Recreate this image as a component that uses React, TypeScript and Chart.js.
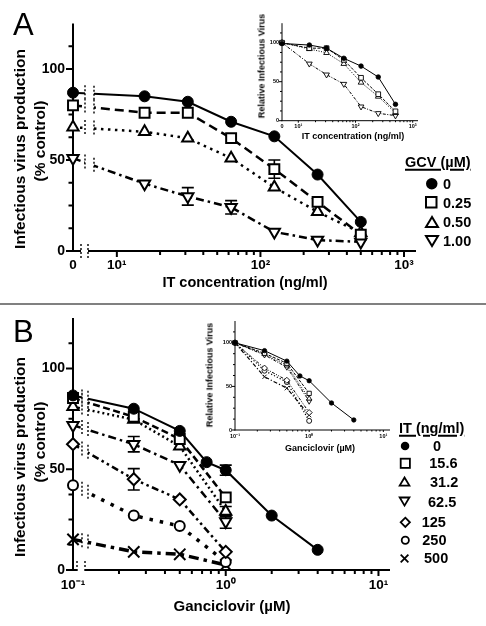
import React, { useEffect, useRef } from 'react';
import { Chart, registerables } from 'chart.js';

Chart.register(...registerables);

const FONT = '"Liberation Sans", Arial, Helvetica, sans-serif';

/* ---------------- data: panel A (IT concentration, ng/ml) ---------------- */
const IT_CONC = [0, 15.6, 31.2, 62.5, 125, 250, 500];
const GCV_LEVELS = ['0', '0.25', '0.50', '1.00'];
const A_GCV_0 = [87, 85, 82, 71, 63, 42, 16];
const A_GCV_025 = [80, 76, 76, 62, 45, 27, 9];
const A_GCV_050 = [68, 65.5, 62, 51, 35, 21.5, 10];
const A_GCV_100 = [51, 37, 30, 24, 10.5, 6, 5];
const A_ERR_GCV_025 = [0, 0, 0, 0, 5, 0, 0];
const A_ERR_GCV_100 = [0, 0, 4.8, 3.7, 0, 0, 0];
const A_INSET_GCV_0 = [99, 97, 93, 80, 70, 56, 21];
const A_INSET_GCV_025 = [100, 93, 93, 78, 55, 34, 12];
const A_INSET_GCV_050 = [100, 92, 87, 73, 49, 31, 10];
const A_INSET_GCV_100 = [100, 73, 59, 47, 18, 9.5, 6.5];
const A_X_TICK_VALUES = [0, 10, 100, 1000];
const A_X_TICK_LABELS = ['0', '10¹', '10²', '10³'];
const A_X_MINOR = [20, 30, 40, 50, 60, 70, 80, 90, 200, 300, 400, 500, 600, 700, 800, 900];

/* ---------------- data: panel B (Ganciclovir, µM) ---------------- */
const GCV_CONC_FULL = [0, 0.25, 0.5, 0.75, 1, 2, 4];
const GCV_CONC = [0, 0.25, 0.5, 1];
const IT_LEVELS = ['0', '15.6', '31.2', '62.5', '125', '250', '500'];
const B_IT_0 = [86.6, 80, 69, 53.5, 49.5, 27, 10];
const B_IT_156 = [85.3, 76, 65, 36];
const B_IT_312 = [81, 74.6, 61.4, 29];
const B_IT_625 = [71.8, 62.4, 52, 24];
const B_IT_125 = [62.4, 45, 35, 9];
const B_IT_250 = [42, 27, 21.8, 4];
const B_IT_500 = [15.2, 9, 7.8, 2.5];
const B_ERR_IT_0 = [0, 0, 0, 0, 2.5, 0, 0];
const B_ERR_IT_312 = [0, 0, 0, 2.5];
const B_ERR_IT_625 = [0, 3.8, 0, 3.3];
const B_ERR_IT_125 = [0, 5.3, 0, 0];
const B_INSET_IT_0 = [100, 91, 79, 62, 56.5, 31, 11.5];
const B_INSET_IT_156 = [100, 88, 76.5, 42];
const B_INSET_IT_312 = [100, 87, 74, 36];
const B_INSET_IT_625 = [100, 86, 72, 33];
const B_INSET_IT_125 = [100, 71, 57, 20];
const B_INSET_IT_250 = [100, 68, 55, 10.5];
const B_INSET_IT_500 = [100, 61, 48, 17];
const B_X_TICK_VALUES = [0, 1, 10];
const B_X_TICK_LABELS = ['10⁻¹', '10⁰', '10¹'];
const B_X_MINOR = [0.2, 0.3, 0.4, 0.5, 0.6, 0.7, 0.8, 0.9, 2, 3, 4, 5, 6, 7, 8, 9];

const Y_TICK_VALUES = [0, 50, 100];
const Y_MINOR = [12.5, 25, 37.5, 62.5, 75, 87.5, 112.5];

/* ---------------- styles ---------------- */
type SStyle = { point: string; radius: number; fill: boolean; rot?: number; dash: number[]; width: number; pbw: number };

const STYLE_A_MAIN: SStyle[] = [
  { point: 'circle', radius: 5.5, fill: true, dash: [], width: 2, pbw: 1 },
  { point: 'rect', radius: 7, fill: false, dash: [9, 5], width: 2.5, pbw: 2 },
  { point: 'triangle', radius: 6.5, fill: false, dash: [2.5, 4.5], width: 2.5, pbw: 2 },
  { point: 'triangle', radius: 6.5, fill: false, rot: 180, dash: [8, 4, 2.5, 4], width: 2.5, pbw: 2 },
];
const STYLE_A_INSET: SStyle[] = [
  { point: 'circle', radius: 2.3, fill: true, dash: [], width: 1, pbw: 0.8 },
  { point: 'rect', radius: 3.3, fill: false, dash: [3, 1.5], width: 1, pbw: 0.9 },
  { point: 'triangle', radius: 3.3, fill: false, dash: [1, 1.5], width: 1, pbw: 0.9 },
  { point: 'triangle', radius: 3.3, fill: false, rot: 180, dash: [3, 1.5, 1, 1.5], width: 1, pbw: 0.9 },
];
const STYLE_B_MAIN: SStyle[] = [
  { point: 'circle', radius: 5.5, fill: true, dash: [], width: 2, pbw: 1 },
  { point: 'rect', radius: 7, fill: false, dash: [7, 3.5], width: 2.5, pbw: 2 },
  { point: 'triangle', radius: 6.5, fill: false, dash: [2, 3], width: 2.5, pbw: 2 },
  { point: 'triangle', radius: 6.5, fill: false, rot: 180, dash: [8, 4, 2.5, 4], width: 2.5, pbw: 2 },
  { point: 'rectRot', radius: 6, fill: false, dash: [7, 3.5, 2.5, 3.5, 2.5, 3.5], width: 2.5, pbw: 2 },
  { point: 'circle', radius: 5, fill: false, dash: [3.5, 7], width: 3.5, pbw: 2 },
  { point: 'crossRot', radius: 8, fill: false, dash: [10, 5, 3.5, 5], width: 3.5, pbw: 2 },
];
const STYLE_B_INSET: SStyle[] = [
  { point: 'circle', radius: 2.2, fill: true, dash: [], width: 1, pbw: 0.8 },
  { point: 'rect', radius: 3, fill: false, dash: [3, 1.5], width: 1, pbw: 0.9 },
  { point: 'triangle', radius: 3, fill: false, dash: [1, 1.5], width: 1, pbw: 0.9 },
  { point: 'triangle', radius: 3, fill: false, rot: 180, dash: [3, 1.5, 1, 1.5], width: 1, pbw: 0.9 },
  { point: 'rectRot', radius: 3, fill: false, dash: [3, 1.5, 1, 1.5, 1, 1.5], width: 1, pbw: 0.9 },
  { point: 'circle', radius: 2.5, fill: false, dash: [1.2, 2], width: 1.2, pbw: 0.9 },
  { point: 'crossRot', radius: 3, fill: false, dash: [4, 2, 1.2, 2], width: 1.2, pbw: 0.9 },
];

/* ---------------- panel specs ---------------- */
type Series = { xs: number[]; ys: number[]; err?: number[]; style: SStyle };
type Spec = {
  box: { left: number; top: number; width: number; height: number };
  area: { left: number; top: number; right: number; bottom: number };
  xMin: number; xMax: number; zeroAt: number;
  xTicks: number[]; xTickLabels: string[]; xMinor: number[];
  xFont: number; yFont: number; fontWeight: string;
  majLen: number; minLen: number; axisW: number;
  xTickLen: number; xPad: number; yTickLen: number; yPad: number;
  gap: { l: number; r: number; h: number; w: number; dash: number[] };
  axisGap: { l: number; r: number; up: number; down: number };
  cap: number;
  series: Series[];
};

const SPEC_A_MAIN: Spec = {
  box: { left: 0, top: 0, width: 425, height: 300 },
  area: { left: 73, top: 23.5, right: 417, bottom: 251 },
  xMin: 4.95, xMax: 1212, zeroAt: 4.95,
  xTicks: A_X_TICK_VALUES, xTickLabels: A_X_TICK_LABELS, xMinor: A_X_MINOR,
  xFont: 13.5, yFont: 14, fontWeight: 'bold',
  majLen: 7, minLen: 4.5, axisW: 2,
  xTickLen: 5, xPad: 1.5, yTickLen: 7, yPad: 1,
  gap: { l: 85, r: 94, h: 8, w: 1.4, dash: [2, 2] },
  axisGap: { l: 81, r: 88, up: 7, down: 7 },
  cap: 6,
  series: [
    { xs: IT_CONC, ys: A_GCV_0, style: STYLE_A_MAIN[0] },
    { xs: IT_CONC, ys: A_GCV_025, err: A_ERR_GCV_025, style: STYLE_A_MAIN[1] },
    { xs: IT_CONC, ys: A_GCV_050, style: STYLE_A_MAIN[2] },
    { xs: IT_CONC, ys: A_GCV_100, err: A_ERR_GCV_100, style: STYLE_A_MAIN[3] },
  ],
};

const SPEC_A_INSET: Spec = {
  box: { left: 235, top: 0, width: 190, height: 140 },
  area: { left: 282, top: 23.2, right: 418, bottom: 120.7 },
  xMin: 5.19, xMax: 1238, zeroAt: 5.19,
  xTicks: A_X_TICK_VALUES, xTickLabels: A_X_TICK_LABELS, xMinor: A_X_MINOR,
  xFont: 5.5, yFont: 5.5, fontWeight: 'bold',
  majLen: 3, minLen: 2, axisW: 1,
  xTickLen: 2, xPad: 0.5, yTickLen: 2, yPad: 1,
  gap: { l: 288, r: 293, h: 5, w: 1, dash: [1.2, 1.2] },
  axisGap: { l: 287, r: 292, up: 10, down: 0 },
  cap: 2,
  series: [
    { xs: IT_CONC, ys: A_INSET_GCV_0, style: STYLE_A_INSET[0] },
    { xs: IT_CONC, ys: A_INSET_GCV_025, style: STYLE_A_INSET[1] },
    { xs: IT_CONC, ys: A_INSET_GCV_050, style: STYLE_A_INSET[2] },
    { xs: IT_CONC, ys: A_INSET_GCV_100, style: STYLE_A_INSET[3] },
  ],
};

const SPEC_B_MAIN: Spec = {
  box: { left: 0, top: 305, width: 400, height: 321 },
  area: { left: 73, top: 318, right: 391.7, bottom: 570 },
  xMin: 0.1, xMax: 11.9, zeroAt: 0.1,
  xTicks: B_X_TICK_VALUES, xTickLabels: B_X_TICK_LABELS, xMinor: B_X_MINOR,
  xFont: 13.5, yFont: 14, fontWeight: 'bold',
  majLen: 7, minLen: 4.5, axisW: 2,
  xTickLen: 6, xPad: 1.5, yTickLen: 7, yPad: 1,
  gap: { l: 82, r: 88, h: 8, w: 1.4, dash: [2, 2] },
  axisGap: { l: 77, r: 85, up: 9, down: 3 },
  cap: 6,
  series: [
    { xs: GCV_CONC_FULL, ys: B_IT_0, err: B_ERR_IT_0, style: STYLE_B_MAIN[0] },
    { xs: GCV_CONC, ys: B_IT_156, style: STYLE_B_MAIN[1] },
    { xs: GCV_CONC, ys: B_IT_312, err: B_ERR_IT_312, style: STYLE_B_MAIN[2] },
    { xs: GCV_CONC, ys: B_IT_625, err: B_ERR_IT_625, style: STYLE_B_MAIN[3] },
    { xs: GCV_CONC, ys: B_IT_125, err: B_ERR_IT_125, style: STYLE_B_MAIN[4] },
    { xs: GCV_CONC, ys: B_IT_250, style: STYLE_B_MAIN[5] },
    { xs: GCV_CONC, ys: B_IT_500, style: STYLE_B_MAIN[6] },
  ],
};

const SPEC_B_INSET: Spec = {
  box: { left: 190, top: 308, width: 205, height: 140 },
  area: { left: 235, top: 321, right: 390, bottom: 430 },
  xMin: 0.1, xMax: 12.3, zeroAt: 0.1,
  xTicks: B_X_TICK_VALUES, xTickLabels: B_X_TICK_LABELS, xMinor: B_X_MINOR,
  xFont: 5.5, yFont: 5.5, fontWeight: 'bold',
  majLen: 3, minLen: 2, axisW: 1,
  xTickLen: 2, xPad: 1, yTickLen: 2, yPad: 1,
  gap: { l: 240, r: 245, h: 5, w: 1, dash: [1.2, 1.2] },
  axisGap: { l: 237, r: 242, up: 9, down: 2 },
  cap: 2,
  series: [
    { xs: GCV_CONC_FULL, ys: B_INSET_IT_0, style: STYLE_B_INSET[0] },
    { xs: GCV_CONC, ys: B_INSET_IT_156, style: STYLE_B_INSET[1] },
    { xs: GCV_CONC, ys: B_INSET_IT_312, style: STYLE_B_INSET[2] },
    { xs: GCV_CONC, ys: B_INSET_IT_625, style: STYLE_B_INSET[3] },
    { xs: GCV_CONC, ys: B_INSET_IT_125, style: STYLE_B_INSET[4] },
    { xs: GCV_CONC, ys: B_INSET_IT_250, style: STYLE_B_INSET[5] },
    { xs: GCV_CONC, ys: B_INSET_IT_500, style: STYLE_B_INSET[6] },
  ],
};

/* ---------------- chart building ---------------- */
function decoPlugin(spec: Spec) {
  return {
    id: 'panelDeco',
    beforeDatasetsDraw(chart: any) {
      const ctx = chart.ctx as CanvasRenderingContext2D;
      const xs = chart.scales.x;
      const ys = chart.scales.y;
      const { left, right, top, bottom } = chart.chartArea;
      ctx.save();
      ctx.strokeStyle = '#000';
      ctx.lineCap = 'butt';
      ctx.lineWidth = spec.axisW;
      ctx.beginPath();
      ctx.moveTo(left, top);
      ctx.lineTo(left, bottom + spec.axisW / 2);
      ctx.moveTo(left - spec.axisW / 2, bottom);
      ctx.lineTo(right, bottom);
      // y ticks
      Y_TICK_VALUES.forEach((v) => {
        const p = ys.getPixelForValue(v);
        ctx.moveTo(left - spec.majLen, p);
        ctx.lineTo(left, p);
      });
      Y_MINOR.forEach((v) => {
        const p = ys.getPixelForValue(v);
        ctx.moveTo(left - spec.minLen, p);
        ctx.lineTo(left, p);
      });
      // x ticks
      spec.xTicks.forEach((v) => {
        if (v === 0) return;
        const p = xs.getPixelForValue(v);
        ctx.moveTo(p, bottom);
        ctx.lineTo(p, bottom + spec.majLen - 1);
      });
      spec.xMinor.forEach((v) => {
        const p = xs.getPixelForValue(v);
        ctx.moveTo(p, bottom);
        ctx.lineTo(p, bottom + spec.minLen - 0.5);
      });
      ctx.stroke();
      // error bars
      ctx.lineWidth = spec.axisW * 0.8;
      ctx.beginPath();
      spec.series.forEach((s, i) => {
        if (!s.err) return;
        const meta = chart.getDatasetMeta(i);
        s.err.forEach((e, j) => {
          if (!e) return;
          const pt = meta.data[j];
          const y1 = ys.getPixelForValue(s.ys[j] + e);
          const y2 = ys.getPixelForValue(s.ys[j] - e);
          ctx.moveTo(pt.x, y1);
          ctx.lineTo(pt.x, y2);
          ctx.moveTo(pt.x - spec.cap, y1);
          ctx.lineTo(pt.x + spec.cap, y1);
          ctx.moveTo(pt.x - spec.cap, y2);
          ctx.lineTo(pt.x + spec.cap, y2);
        });
      });
      ctx.stroke();
      ctx.restore();
    },
    afterDatasetsDraw(chart: any) {
      const ctx = chart.ctx as CanvasRenderingContext2D;
      const { top, bottom } = chart.chartArea;
      const g = spec.gap;
      const a = spec.axisGap;
      ctx.save();
      ctx.clearRect(g.l, top - 12, g.r - g.l, bottom - 3 - (top - 12));
      ctx.clearRect(a.l, bottom - spec.axisW - 0.5, a.r - a.l, spec.axisW * 2 + 1);
      ctx.strokeStyle = '#000';
      ctx.lineWidth = g.w;
      ctx.setLineDash(g.dash);
      ctx.beginPath();
      spec.series.forEach((_s, i) => {
        const pts = chart.getDatasetMeta(i).data;
        if (pts.length < 2) return;
        const p0 = pts[0];
        const p1 = pts[1];
        const yAt = (x: number) => p0.y + ((p1.y - p0.y) * (x - p0.x)) / (p1.x - p0.x);
        [g.l, g.r].forEach((x) => {
          const y = yAt(x);
          ctx.moveTo(x, y - g.h);
          ctx.lineTo(x, y + g.h);
        });
      });
      [a.l, a.r].forEach((x) => {
        ctx.moveTo(x, bottom - a.up);
        ctx.lineTo(x, bottom + a.down);
      });
      ctx.stroke();
      ctx.restore();
    },
  };
}

function buildChart(canvas: HTMLCanvasElement, spec: Spec) {
  const labelFor = (v: number) => {
    for (let i = 0; i < spec.xTicks.length; i++) {
      const tv = spec.xTicks[i] === 0 ? spec.zeroAt : spec.xTicks[i];
      if (Math.abs(Math.log10(tv) - Math.log10(v)) < 1e-6) return spec.xTickLabels[i];
    }
    return '';
  };
  const datasets = spec.series.map((s) => ({
    data: s.xs.map((x, i) => ({ x: x === 0 ? spec.zeroAt : x, y: s.ys[i] })),
    borderColor: '#000',
    borderWidth: s.style.width,
    borderDash: s.style.dash,
    pointStyle: s.style.point,
    pointRadius: s.style.radius,
    pointHoverRadius: s.style.radius,
    pointRotation: s.style.rot || 0,
    pointBackgroundColor: s.style.fill ? '#000' : '#fff',
    pointBorderColor: '#000',
    pointBorderWidth: s.style.pbw,
    fill: false,
    tension: 0,
    clip: false,
  }));
  const tickFontX = { family: FONT, size: spec.xFont, weight: spec.fontWeight };
  const tickFontY = { family: FONT, size: spec.yFont, weight: spec.fontWeight };
  return new Chart(canvas, {
    type: 'line',
    data: { datasets } as any,
    plugins: [decoPlugin(spec)],
    options: {
      animation: false,
      responsive: false,
      maintainAspectRatio: false,
      events: [],
      layout: {
        padding: {
          top: spec.area.top - spec.box.top,
          right: spec.box.left + spec.box.width - spec.area.right,
          left: 0,
          bottom: 0,
        },
      },
      plugins: { legend: { display: false }, tooltip: { enabled: false } },
      scales: {
        x: {
          type: 'logarithmic',
          min: spec.xMin,
          max: spec.xMax,
          bounds: 'data',
          afterBuildTicks: (sc: any) => {
            sc.ticks = spec.xTicks.map((v) => ({ value: v === 0 ? spec.zeroAt : v }));
          },
          afterFit: (sc: any) => {
            sc.height = spec.box.top + spec.box.height - spec.area.bottom;
            sc.paddingLeft = 0;
            sc.paddingRight = 0;
          },
          ticks: {
            autoSkip: false,
            maxRotation: 0,
            minRotation: 0,
            padding: spec.xPad,
            color: '#000',
            font: tickFontX,
            callback: (v: any) => labelFor(Number(v)),
          },
          grid: {
            display: true,
            drawOnChartArea: false,
            drawTicks: true,
            tickLength: spec.xTickLen,
            color: 'rgba(0,0,0,0)',
            tickColor: 'rgba(0,0,0,0)',
          },
          border: { display: false },
        },
        y: {
          type: 'linear',
          min: 0,
          max: 125,
          afterBuildTicks: (sc: any) => {
            sc.ticks = Y_TICK_VALUES.map((v) => ({ value: v }));
          },
          afterFit: (sc: any) => {
            sc.width = spec.area.left - spec.box.left;
            sc.paddingTop = 0;
            sc.paddingBottom = 0;
          },
          ticks: {
            padding: spec.yPad,
            color: '#000',
            font: tickFontY,
            callback: (v: any) => String(v),
          },
          grid: {
            display: true,
            drawOnChartArea: false,
            drawTicks: true,
            tickLength: spec.yTickLen,
            color: 'rgba(0,0,0,0)',
            tickColor: 'rgba(0,0,0,0)',
          },
          border: { display: false },
        },
      },
    } as any,
  });
}

function ChartCanvas({ spec }: { spec: Spec }) {
  const ref = useRef<HTMLCanvasElement>(null);
  useEffect(() => {
    if (!ref.current) return;
    const chart = buildChart(ref.current, spec);
    return () => chart.destroy();
  }, [spec]);
  const b = spec.box;
  return (
    <canvas
      ref={ref}
      width={b.width}
      height={b.height}
      style={{ position: 'absolute', left: b.left, top: b.top, width: b.width, height: b.height }}
    />
  );
}

/* ---------------- text & legend helpers ---------------- */
function Label(props: {
  x: number; y: number; size: number; text: string; rotate?: boolean; bold?: boolean;
  align?: 'center' | 'left'; underline?: boolean;
}) {
  const { x, y, size, text, rotate, bold = true, align = 'center', underline } = props;
  const transform =
    align === 'center' ? `translate(-50%, -50%)${rotate ? ' rotate(-90deg)' : ''}` : 'translateY(-50%)';
  return (
    <div
      style={{
        position: 'absolute',
        left: x,
        top: y,
        transform,
        fontFamily: FONT,
        fontSize: size,
        fontWeight: bold ? 700 : 400,
        lineHeight: 1,
        whiteSpace: 'nowrap',
        color: '#000',
        textDecoration: underline ? 'underline' : 'none',
        textUnderlineOffset: 2,
        textDecorationThickness: 1.5,
      }}
    >
      {text}
    </div>
  );
}

function Glyph({ kind, cx, cy, s, sw }: { kind: string; cx: number; cy: number; s: number; sw: number }) {
  const pad = sw + 1;
  const size = s + pad * 2;
  const c = size / 2;
  const h = s / 2;
  let el: any = null;
  if (kind === 'dot') el = <circle cx={c} cy={c} r={h} fill="#000" />;
  else if (kind === 'ring') el = <circle cx={c} cy={c} r={h - sw / 2} fill="none" stroke="#000" strokeWidth={sw} />;
  else if (kind === 'square')
    el = <rect x={c - h + sw / 2} y={c - h + sw / 2} width={s - sw} height={s - sw} fill="none" stroke="#000" strokeWidth={sw} />;
  else if (kind === 'triUp') {
    const th = s * 0.86;
    const pts = `${c},${c - th / 2 + sw / 2} ${c - h + sw / 2},${c + th / 2 - sw / 2} ${c + h - sw / 2},${c + th / 2 - sw / 2}`;
    el = <polygon points={pts} fill="none" stroke="#000" strokeWidth={sw} strokeLinejoin="miter" />;
  } else if (kind === 'triDown') {
    const th = s * 0.86;
    const pts = `${c},${c + th / 2 - sw / 2} ${c - h + sw / 2},${c - th / 2 + sw / 2} ${c + h - sw / 2},${c - th / 2 + sw / 2}`;
    el = <polygon points={pts} fill="none" stroke="#000" strokeWidth={sw} />;
  } else if (kind === 'diamond') {
    const r = h - sw / 2;
    const pts = `${c},${c - r} ${c + r},${c} ${c},${c + r} ${c - r},${c}`;
    el = <polygon points={pts} fill="none" stroke="#000" strokeWidth={sw} />;
  } else if (kind === 'cross') {
    const r = h - sw / 2;
    el = (
      <g stroke="#000" strokeWidth={sw}>
        <line x1={c - r} y1={c - r} x2={c + r} y2={c + r} />
        <line x1={c - r} y1={c + r} x2={c + r} y2={c - r} />
      </g>
    );
  }
  return (
    <svg width={size} height={size} style={{ position: 'absolute', left: cx - c, top: cy - c }}>
      {el}
    </svg>
  );
}

/* legend layout (positions only) */
const LEG_A_GLYPHS = ['dot', 'square', 'triUp', 'triDown'];
const LEG_A_SIZES = [11.5, 12.5, 14, 14];
const LEG_A_ROWS = [184, 202.5, 222, 241];
const LEG_B_GLYPHS = ['dot', 'square', 'triUp', 'triDown', 'diamond', 'ring', 'cross'];
const LEG_B_SIZES = [8.5, 11, 11.5, 11.5, 11, 9, 9.5];
const LEG_B_ROWS = [446, 463.3, 481.7, 501.7, 522.3, 540, 558.3];
const LEG_B_TEXT_X = [433, 429.3, 430, 428, 421.7, 422.3, 424];

export default function App() {
  return (
    <div
      style={{
        position: 'absolute',
        left: 0,
        top: 0,
        width: 486,
        height: 626,
        background: '#fff',
        overflow: 'hidden',
        fontFamily: FONT,
      }}
    >
      <ChartCanvas spec={SPEC_A_MAIN} />
      <ChartCanvas spec={SPEC_B_MAIN} />
      <ChartCanvas spec={SPEC_A_INSET} />
      <ChartCanvas spec={SPEC_B_INSET} />

      {/* separator */}
      <div style={{ position: 'absolute', left: 0, top: 303, width: 486, height: 2, background: '#808080' }} />

      {/* panel letters */}
      <div style={{ position: 'absolute', left: 13, top: 9, fontFamily: FONT, fontSize: 31, lineHeight: 1 }}>A</div>
      <div style={{ position: 'absolute', left: 13, top: 316, fontFamily: FONT, fontSize: 31, lineHeight: 1 }}>B</div>

      {/* panel A titles */}
      <Label x={20} y={149} size={15.5} text="Infectious virus production" rotate />
      <Label x={40} y={141} size={15.5} text="(% control)" rotate />
      <Label x={245} y={282} size={14.5} text="IT concentration (ng/ml)" />
      <Label x={262} y={66} size={9} text="Relative Infectious Virus" rotate />
      <Label x={353} y={136} size={9} text="IT concentration (ng/ml)" />

      {/* panel A legend */}
      <Label x={405} y={162} size={14.5} text="GCV (µM)" align="left" underline />
      {GCV_LEVELS.map((t, i) => (
        <React.Fragment key={'la' + i}>
          <Glyph kind={LEG_A_GLYPHS[i]} cx={431.7} cy={LEG_A_ROWS[i]} s={LEG_A_SIZES[i]} sw={2} />
          <Label x={443} y={LEG_A_ROWS[i]} size={14.5} text={t} align="left" />
        </React.Fragment>
      ))}

      {/* panel B titles */}
      <Label x={20} y={457} size={15.5} text="Infectious virus production" rotate />
      <Label x={40} y={442} size={15.5} text="(% control)" rotate />
      <Label x={232} y={605} size={15} text="Ganciclovir (µM)" />
      <Label x={210} y={375} size={9} text="Relative Infectious Virus" rotate />
      <Label x={320} y={448} size={9} text="Ganciclovir (µM)" />

      {/* panel B legend */}
      <Label x={399} y={428} size={14.5} text="IT (ng/ml)" align="left" underline />
      {IT_LEVELS.map((t, i) => (
        <React.Fragment key={'lb' + i}>
          <Glyph kind={LEG_B_GLYPHS[i]} cx={405} cy={LEG_B_ROWS[i]} s={LEG_B_SIZES[i]} sw={1.8} />
          <Label x={LEG_B_TEXT_X[i]} y={LEG_B_ROWS[i]} size={14.5} text={t} align="left" />
        </React.Fragment>
      ))}
    </div>
  );
}
